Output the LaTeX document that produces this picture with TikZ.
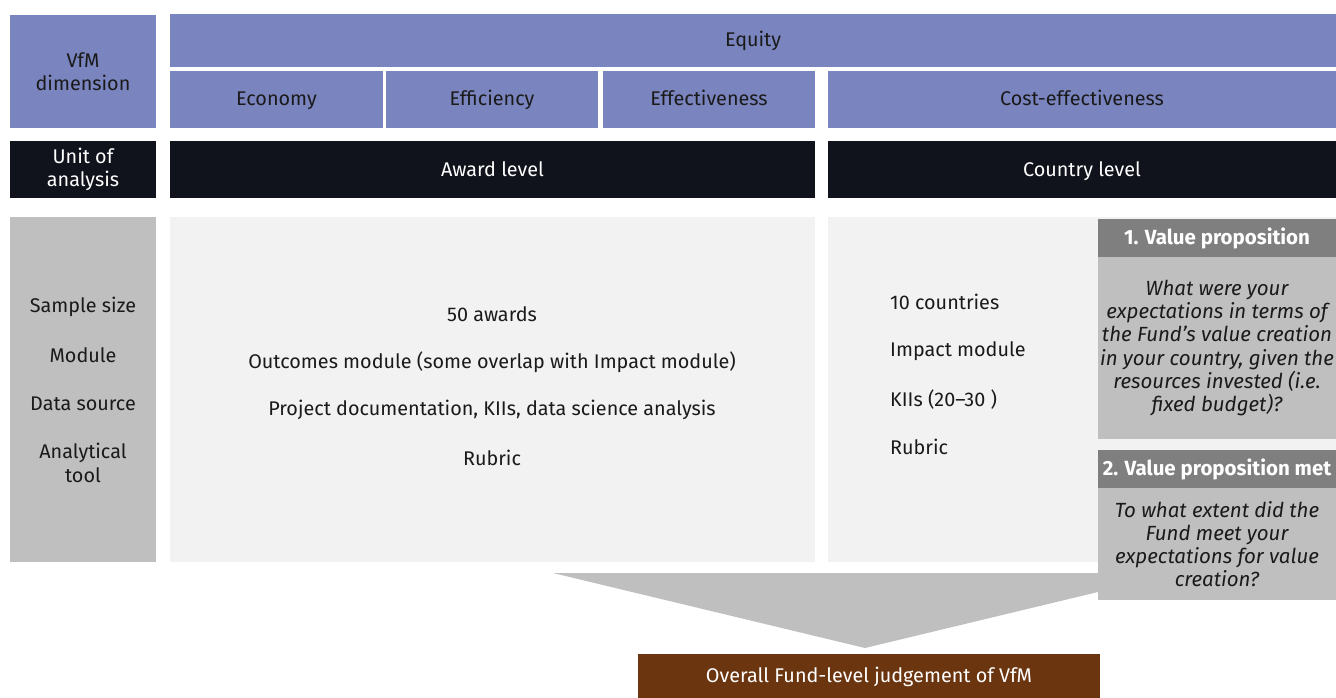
\documentclass[tikz,border=0pt]{standalone}
\usepackage{fontspec}
\setmainfont{Fira Sans}
\definecolor{vfmblue}{HTML}{7A84BF}
\definecolor{unitblack}{HTML}{10121C}
\definecolor{panelgray}{HTML}{F2F2F2}
\definecolor{midgray}{HTML}{BFBFBF}
\definecolor{darkgray}{HTML}{7F7F7F}
\definecolor{brown}{HTML}{6B3510}
\definecolor{txt}{HTML}{1A1A1A}
\newcommand{\fs}{\fontsize{19.8}{23.5}\selectfont}
\newcommand{\fsv}{\fontsize{20.5}{23.2}\selectfont}
\begin{document}
\begin{tikzpicture}[x=1pt,y=-1pt,
  cell/.style={inner sep=0pt, outer sep=0pt, anchor=north west, align=center, font=\fs, text=txt},
  one/.style={text height=13.5pt, text depth=0.5pt},
  bluecell/.style={cell, fill=vfmblue},
  blackcell/.style={cell, fill=unitblack, text=white},
  graycell/.style={cell, fill=midgray},
  panel/.style={cell, fill=panelgray},
  vphead/.style={cell, one, fill=darkgray, text=white, font=\fsv\bfseries},
  vpbody/.style={cell, fill=midgray, font=\fsv\itshape, text=txt},
  lbl/.style={inner sep=0pt, font=\fs, text=txt, align=center},
  lbll/.style={inner sep=0pt, font=\fs, text=txt, anchor=west}]
\useasboundingbox (0,0) rectangle (1336,698);
\fill[white] (0,0) rectangle (1336,698);
% header row
\node[bluecell, minimum width=146, minimum height=113] (vfm) at (10,15) {VfM\\dimension};
\node[bluecell, one, minimum width=1166, minimum height=53] (equity) at (170,14) {Equity};
\node[bluecell, one, minimum width=213, minimum height=57] (economy) at (170,71) {Economy};
\node[bluecell, one, minimum width=212, minimum height=57] (efficiency) at (386,71) {Efficiency};
\node[bluecell, one, minimum width=212, minimum height=57] (effectiveness) at (603,71) {Effectiveness};
\node[bluecell, one, minimum width=508, minimum height=57] (costeff) at (828,71) {Cost-effectiveness};
% unit row
\node[blackcell, minimum width=146, minimum height=57] (unit) at (10,141) {Unit of\\analysis};
\node[blackcell, one, minimum width=645, minimum height=57] (award) at (170,141) {Award level};
\node[blackcell, one, minimum width=508, minimum height=57] (country) at (828,141) {Country level};
% panels
\node[graycell, minimum width=146, minimum height=345] (rows) at (10,217) {};
\node[panel, minimum width=645, minimum height=345] (awardpanel) at (170,217) {};
\node[panel, minimum width=508, minimum height=345] (countrypanel) at (828,217) {};
% row labels
\node[lbl] (l1) at (83,307) {Sample size};
\node[lbl] (l2) at (83,355) {Module};
\node[lbl] (l3) at (83,404) {Data source};
\node[lbl] (l4) at (83,463) {Analytical\\tool};
% award texts
\node[lbl] (a1) at (492,314) {50 awards};
\node[lbl] (a2) at (492,362) {Outcomes module (some overlap with Impact module)};
\node[lbl] (a3) at (492,410) {Project documentation, KIIs, data science analysis};
\node[lbl] (a4) at (492,458) {Rubric};
% country texts
\node[lbll] (c1) at (890,302) {10 countries};
\node[lbll] (c2) at (890,351) {Impact module};
\node[lbll] (c3) at (890,400) {KIIs (20–30 )};
\node[lbll] (c4) at (890,447) {Rubric};
% arrow chevron
\fill[midgray] (553,573) -- (1177,573) -- (865,648) -- cycle;
% value proposition boxes
\node[vphead, minimum width=238, minimum height=38] (vp1h) at (1098,219) {1. Value proposition};
\node[vpbody, minimum width=238, minimum height=182] (vp1b) at (1098,257) {What were your\\expectations in terms of\\the Fund’s value creation\\in your country, given the\\resources invested (i.e.\\fixed budget)?};
\node[vphead, minimum width=238, minimum height=38] (vp2h) at (1098,450) {2. Value proposition met};
\node[vpbody, minimum width=238, minimum height=112] (vp2b) at (1098,488) {To what extent did the\\Fund meet your\\expectations for value\\creation?};
% overall
\node[cell, one, fill=brown, text=white, minimum width=462, minimum height=44] (overall) at (638,654) {Overall Fund-level judgement of VfM};
\end{tikzpicture}
\end{document}
